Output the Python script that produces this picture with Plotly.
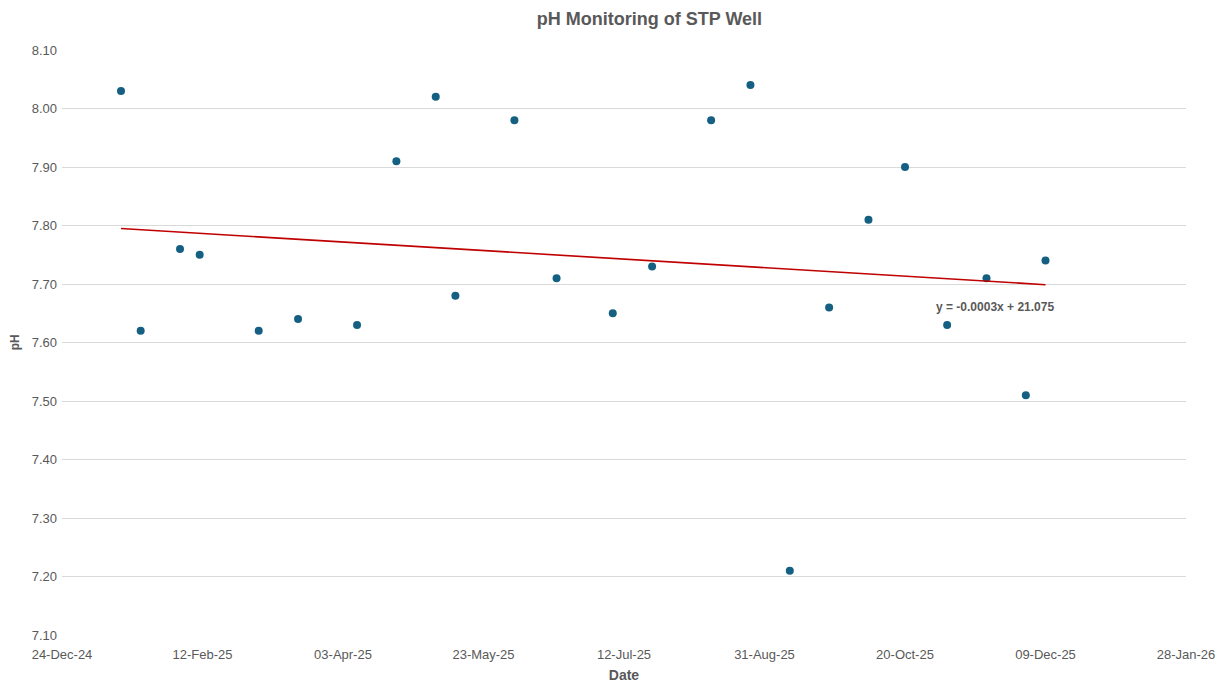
"""
pH Monitoring of STP Well - scatter with linear trendline
"""
import numpy as np
import pandas as pd
import plotly.graph_objects as go

# sampling dates and pH readings
dates = [
    "2025-01-14", "2025-01-21", "2025-02-04", "2025-02-11", "2025-03-04", "2025-03-18",
    "2025-04-08", "2025-04-22", "2025-05-06", "2025-05-13", "2025-06-03", "2025-06-18",
    "2025-07-08", "2025-07-22", "2025-08-12", "2025-08-26", "2025-09-09", "2025-09-23",
    "2025-10-07", "2025-10-20", "2025-11-04", "2025-11-18", "2025-12-02", "2025-12-09",
]
ph = [
    8.03, 7.62, 7.76, 7.75, 7.62, 7.64,
    7.63, 7.91, 8.02, 7.68, 7.98, 7.71,
    7.65, 7.73, 7.98, 8.04, 7.21, 7.66,
    7.81, 7.90, 7.63, 7.71, 7.51, 7.74,
]
trend_label = "y = -0.0003x + 21.075"

dt = pd.to_datetime(dates)
# Excel-style serial days for the regression
days = (dt - pd.Timestamp("1899-12-30")).days.values.astype(float)
slope, intercept = np.polyfit(days, ph, 1)
trend_x = [dt.min(), dt.max()]
trend_y = [slope * days.min() + intercept, slope * days.max() + intercept]

grey = "#595959"
font = "Liberation Sans"

fig = go.Figure()
fig.add_trace(go.Scatter(
    x=dt, y=ph, mode="markers",
    marker=dict(color="#156082", size=8),
    showlegend=False, hoverinfo="x+y",
))
fig.add_trace(go.Scatter(
    x=trend_x, y=trend_y, mode="lines",
    line=dict(color="#C00000", width=1.6),
    showlegend=False, hoverinfo="skip",
))

fig.add_annotation(
    x=pd.Timestamp("2025-11-21"), y=7.66, text=f"<b>{trend_label}</b>",
    showarrow=False, font=dict(family=font, size=12, color=grey),
)
fig.add_annotation(
    text="<b>pH</b>", xref="paper", yref="paper", x=-0.05, y=0.5,
    textangle=-90, showarrow=False, font=dict(family=font, size=12, color=grey),
)

fig.update_xaxes(
    range=["2024-12-24", "2026-01-28"],
    tick0="2024-12-24", dtick=50 * 86400000,
    tickformat="%d-%b-%y",
    showgrid=False, zeroline=False, showline=False, ticks="",
    ticklabelstandoff=10, automargin=False,
    tickfont=dict(family=font, size=13, color=grey),
    title=dict(text="<b>Date</b>", font=dict(family=font, size=14, color=grey), standoff=15),
)
fig.update_yaxes(
    range=[7.10, 8.10], dtick=0.1, tickformat=".2f",
    showgrid=True, gridcolor="#D9D9D9", gridwidth=1,
    zeroline=False, showline=False, ticks="",
    ticklabelstandoff=4, automargin=False,
    tickfont=dict(family=font, size=13, color=grey),
)

fig.update_layout(
    title=dict(
        text="<b>pH Monitoring of STP Well</b>",
        x=0.531, xanchor="center", y=0.993, yanchor="top",
        font=dict(family=font, size=18, color=grey),
    ),
    width=1208, height=675,
    margin=dict(l=54, r=30, t=42, b=48),
    plot_bgcolor="white", paper_bgcolor="white",
)

fig.write_html("out.html")
